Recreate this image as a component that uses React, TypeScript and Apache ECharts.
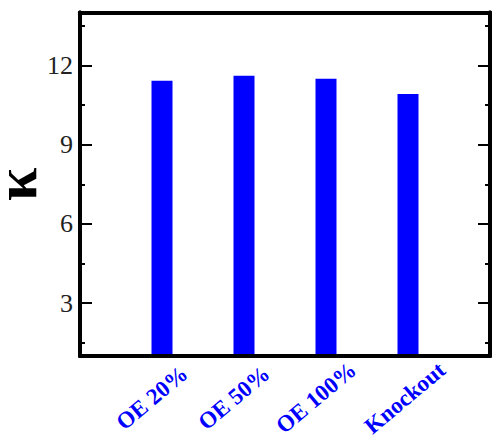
import React, { useEffect, useRef } from "react";
import * as echarts from "echarts";

const categories = ["OE 20%", "OE 50%", "OE 100%", "Knockout"];
const kappaValues = [11.42, 11.61, 11.49, 10.92];
const majorTicks = [3, 6, 9, 12];
const minorTicks = [1.5, 4.5, 7.5, 10.5, 13.5];

export default function App() {
  const ref = useRef<HTMLDivElement>(null);
  useEffect(() => {
    if (!ref.current) return;
    const chart = echarts.init(ref.current, null, { renderer: "svg" });
    const serif = "Liberation Serif";
    const tickLine = { color: "#000", width: 2 };
    const baseY = { type: "value", min: 1, max: 14, splitLine: { show: false } };
    const labelFont = { color: "#0000ff", fontWeight: "bold", fontFamily: serif, fontSize: 23 };
    chart.setOption({
      animation: false,
      backgroundColor: "#fff",
      grid: { left: 80, right: 2, top: 12.5, bottom: 79, outerBoundsMode: "none", containLabel: false },
      xAxis: [
        {
          type: "value",
          min: 0,
          max: 5,
          interval: 1,
          position: "bottom",
          z: 10,
          axisLine: { show: true, onZero: false, lineStyle: { color: "#000", width: 4 } },
          axisTick: { show: false },
          splitLine: { show: false },
          axisLabel: {
            interval: 0,
            formatter: (v: number) => {
              const c = categories[v - 1];
              if (!c) return "";
              return c === "Knockout" ? `{k|${c}}` : `{o|${c}}`;
            },
            rotate: 40,
            align: "center",
            verticalAlign: "middle",
            margin: 42,
            ...labelFont,
            rich: {
              o: { ...labelFont, padding: [0, 15, 13, 0] },
              k: { ...labelFont, padding: [0, 5, 4, 0] },
            },
            showMinLabel: true,
            showMaxLabel: true,
          },
        },
        {
          type: "value",
          min: 0,
          max: 5,
          position: "top",
          z: 10,
          axisLine: { show: true, onZero: false, lineStyle: { color: "#000", width: 4 } },
          axisTick: { show: false },
          axisLabel: { show: false },
          splitLine: { show: false },
        },
      ],
      yAxis: [
        {
          ...baseY,
          position: "left",
          z: 10,
          axisLine: { show: true, onZero: false, lineStyle: { color: "#000", width: 4 } },
          axisTick: { show: true, inside: true, length: 12, lineStyle: tickLine, customValues: majorTicks },
          axisLabel: {
            customValues: majorTicks,
            margin: 7,
            color: "#222",
            fontFamily: serif,
            fontSize: 26,
          },
          name: "κ",
          nameLocation: "middle",
          nameRotate: 90,
          nameGap: 49,
          nameMoveOverlap: false,
          nameTextStyle: { fontFamily: serif, fontWeight: "bold", fontSize: 60, lineHeight: 30, color: "#000" },
        },
        {
          ...baseY,
          position: "left",
          z: 10,
          axisLine: { show: true, onZero: false, lineStyle: { color: "#000", width: 4 } },
          axisTick: { show: true, inside: true, length: 5, lineStyle: tickLine, customValues: minorTicks },
          axisLabel: { show: false },
        },
        {
          ...baseY,
          position: "right",
          z: 10,
          axisLine: { show: true, onZero: false, lineStyle: { color: "#000", width: 4 } },
          axisTick: { show: true, inside: true, length: 12, lineStyle: tickLine, customValues: majorTicks },
          axisLabel: { show: false },
        },
        {
          ...baseY,
          position: "right",
          z: 10,
          axisLine: { show: true, onZero: false, lineStyle: { color: "#000", width: 4 } },
          axisTick: { show: true, inside: true, length: 5, lineStyle: tickLine, customValues: minorTicks },
          axisLabel: { show: false },
        },
      ],
      series: [
        {
          type: "bar",
          xAxisIndex: 0,
          yAxisIndex: 0,
          barWidth: 21,
          itemStyle: { color: "#0000ff" },
          data: categories.map((c, i) => [i + 1, kappaValues[i]]),
        },
      ],
    });
    return () => chart.dispose();
  }, []);
  return (
    <div
      ref={ref}
      style={{ position: "fixed", left: 0, top: 0, width: 492, height: 435, background: "#fff" }}
    />
  );
}
